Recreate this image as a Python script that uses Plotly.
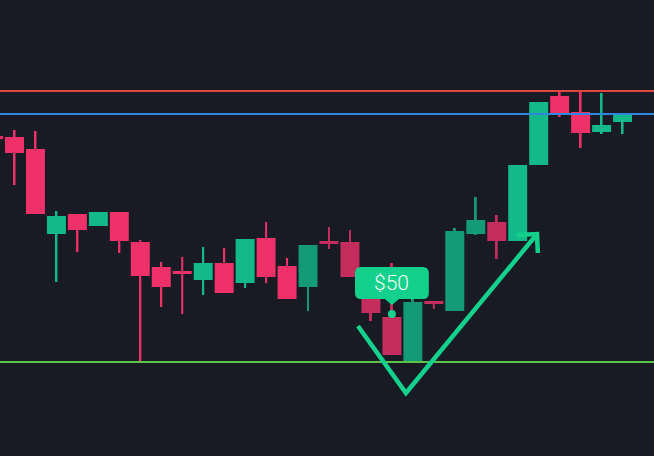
import plotly.graph_objects as go

# ---- data (price units) ----
idx = list(range(31))
opens  = [80.0, 79.75, 76.75, 55.5, 60.5, 57.5, 61.0, 53.5, 47.25, 46.25, 44.0, 48.25, 43.25, 54.5, 47.5, 42.25,
          53.75, 53.5, 40.25, 34.75, 23.75, 38.75, 36.25, 55.5, 58.5, 53.75, 72.75, 90.0, 86.0, 81.0, 83.5]
highs  = [80.25, 81.5, 81.25, 61.25, 60.5, 61.0, 61.0, 54.0, 48.5, 49.75, 52.25, 52.0, 54.25, 58.5, 49.5, 52.75,
          57.25, 56.5, 42.0, 48.25, 39.5, 38.75, 57.0, 64.75, 60.25, 72.75, 88.5, 91.0, 91.0, 90.75, 85.5]
lows   = [79.0, 67.75, 60.5, 43.5, 51.0, 57.5, 50.75, 23.75, 37.25, 35.5, 40.25, 40.75, 42.0, 43.25, 39.25, 36.25,
          51.75, 44.75, 33.75, 25.25, 23.75, 36.75, 36.25, 55.25, 49.25, 53.75, 72.75, 84.75, 77.0, 80.5, 80.5]
closes = [79.25, 75.75, 60.5, 60.0, 56.5, 61.0, 53.75, 45.0, 42.25, 45.5, 48.25, 40.75, 54.25, 44.75, 39.25, 52.75,
          53.0, 44.75, 35.75, 25.25, 38.5, 38.0, 56.25, 59.0, 53.75, 72.75, 88.5, 85.5, 80.75, 82.75, 85.5]
# shade per candle: G = bright green, g = dark green, R = bright red, r = crimson
shades = list("RRRGRGRRRRGRGRRgrrrrgrggrGGRRGG")

resistance_hi = 91.25
resistance_lo = 85.5
support = 23.5
label_text = "$50"
label_candle = 19
label_price = 35.5

# V arrow decoration (x in candle index, y in price)
arrow_x = [17.38, 19.67, 25.92]
arrow_y = [32.5, 15.75, 55.5]
head_x = [24.96, 25.92, 25.96]
head_y = [55.25, 55.5, 50.75]

# ---- styling ----
BG = "#181b24"
shade_col = {"G": "#14b98a", "g": "#149a77", "R": "#ee3169", "r": "#c42d5e"}
cols = [shade_col[s] for s in shades]
ACCENT = "#13d18c"

fig = go.Figure()
# wicks
fig.add_trace(go.Bar(x=idx, base=lows, y=[h - l for h, l in zip(highs, lows)], width=0.095,
                     marker=dict(color=cols, line=dict(width=0)), hoverinfo="skip"))
# bodies
body_base = [min(o, c) for o, c in zip(opens, closes)]
body_h = [max(abs(o - c), 0.75) for o, c in zip(opens, closes)]
fig.add_trace(go.Bar(x=idx, base=body_base, y=body_h, width=0.905,
                     marker=dict(color=cols, line=dict(width=0)), hoverinfo="skip"))

# horizontal levels
for lvl, c in [(resistance_hi, "#e0483e"), (resistance_lo, "#2d86e0"), (support, "#5ec14c")]:
    fig.add_trace(go.Scatter(x=[-2, 34], y=[lvl, lvl], mode="lines",
                             line=dict(color=c, width=2), hoverinfo="skip"))

# V arrow
fig.add_trace(go.Scatter(x=arrow_x, y=arrow_y, mode="lines",
                         line=dict(color=ACCENT, width=4.5), hoverinfo="skip"))
fig.add_trace(go.Scatter(x=head_x, y=head_y, mode="lines",
                         line=dict(color=ACCENT, width=4.5), hoverinfo="skip"))

# dot
fig.add_trace(go.Scatter(x=[label_candle], y=[label_price], mode="markers",
                         marker=dict(color=ACCENT, size=8), hoverinfo="skip"))

# callout box (rounded rect + pointer)
cx = label_candle
hw, top, bot = 1.76, label_price + 11.75, label_price + 3.75
rx, ry = 0.29, 1.5
tip = label_price + 2.25
pw = 0.34
path = (f"M {cx-hw+rx},{top} L {cx+hw-rx},{top} Q {cx+hw},{top} {cx+hw},{top-ry} "
        f"L {cx+hw},{bot+ry} Q {cx+hw},{bot} {cx+hw-rx},{bot} "
        f"L {cx+pw},{bot} L {cx},{tip} L {cx-pw},{bot} "
        f"L {cx-hw+rx},{bot} Q {cx-hw},{bot} {cx-hw},{bot+ry} "
        f"L {cx-hw},{top-ry} Q {cx-hw},{top} {cx-hw+rx},{top} Z")
fig.add_shape(type="path", path=path, xref="x", yref="y", fillcolor=ACCENT,
              line=dict(width=0), layer="above")
fig.add_annotation(x=cx, y=(top + bot) / 2, text=label_text, showarrow=False,
                   font=dict(family="Roboto", size=21, color="#f2fff8", weight=300))

fig.update_layout(
    width=654, height=456, margin=dict(l=0, r=0, t=0, b=0),
    paper_bgcolor=BG, plot_bgcolor=BG, showlegend=False, barmode="overlay",
    xaxis=dict(range=[0.309, 31.5], visible=False, fixedrange=True),
    yaxis=dict(range=[0, 114], visible=False, fixedrange=True),
)
fig.write_html("out.html", config={"displayModeBar": False},
               post_script="document.body.style.margin='0';document.body.style.backgroundColor='#181b24';")
